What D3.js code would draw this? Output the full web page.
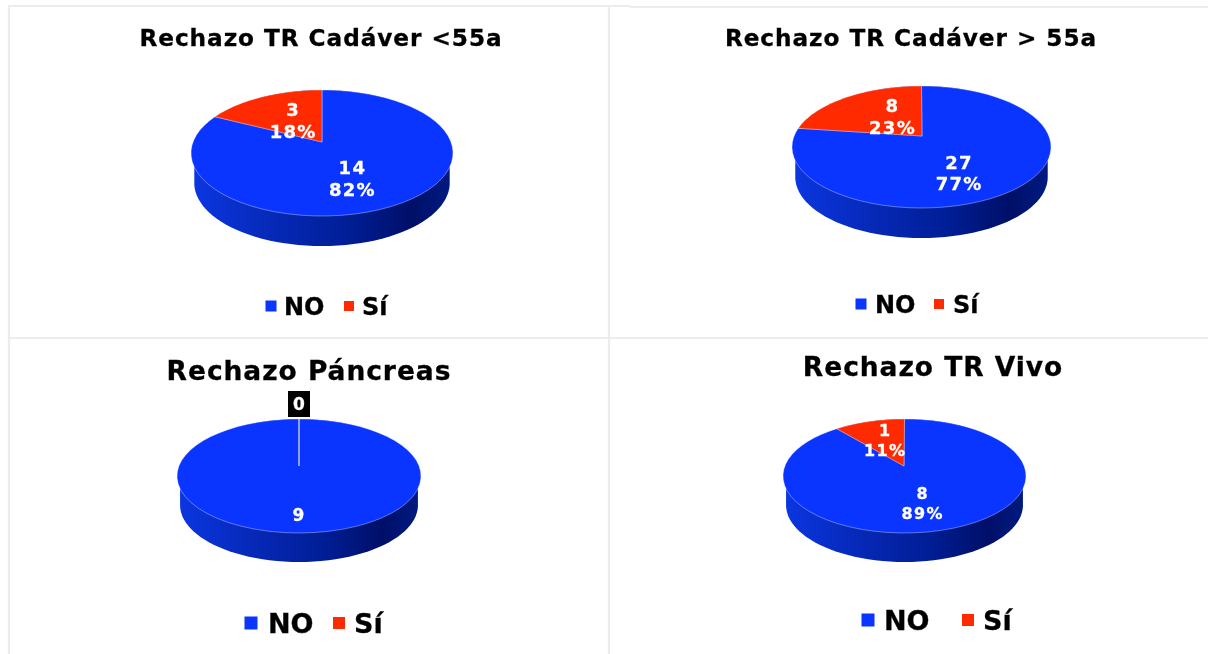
<!DOCTYPE html>
<html>
<head>
<meta charset="utf-8">
<script src="https://cdn.jsdelivr.net/npm/d3@7"></script>
<style>
    html, body { margin: 0; padding: 0; background: #fff; overflow: hidden; }
    svg { display: block; filter: blur(0.55px); font-family: "DejaVu Sans", Verdana, sans-serif; }
</style>
</head>
<body>
<div id="chart"></div>
<script>
const categories = ["NO", "Sí"];
const titles = ["Rechazo TR Cadáver <55a", "Rechazo TR Cadáver > 55a", "Rechazo Páncreas", "Rechazo TR Vivo"];
const noValues = [14, 27, 9, 8];
const siValues = [3, 8, 0, 1];

const
    width = 1208,
    height = 654,
    colors = d3.scaleOrdinal().domain(categories).range(["#0a34ff", "#ff2a00"]),
    svg = d3.select("#chart").append("svg").attr("width", width).attr("height", height);

// where each pie sits in the picture: top/bottom of the face, apex of the slices
const layouts = [
    { left: 191, right: 453, top: 90, bottom: 216, apexX: 322, apexY: 142, depth: 30, labelSize: 18, lineGap: 22, noShift: 13, siShift: [-2, -1],
      titleX: 321, titleY: 46, titleSize: 23.2, legendY: 306, legendSize: 24, boxNo: 11, boxSi: 10, legendX: [271, 284, 349, 362] },
    { left: 792, right: 1051, top: 86, bottom: 208, apexX: 922, apexY: 136, depth: 30, labelSize: 18, lineGap: 21.5, noShift: 17, siShift: [4, -2],
      titleX: 911, titleY: 46, titleSize: 23.2, legendY: 304, legendSize: 24, boxNo: 11, boxSi: 10, legendX: [861, 875, 939, 953] },
    { left: 177, right: 421, top: 419, bottom: 533, apexX: 299, apexY: 466, depth: 29, labelSize: 17, lineGap: 20, noShift: 24, siShift: [0, 0],
      titleX: 309, titleY: 380, titleSize: 26.5, legendY: 623, legendSize: 27, boxNo: 13, boxSi: 12, legendX: [251, 268, 339, 354] },
    { left: 783, right: 1026, top: 419, bottom: 533, apexX: 904, apexY: 466, depth: 29, labelSize: 16, lineGap: 20, noShift: 14, siShift: [-3, -5],
      titleX: 933, titleY: 376, titleSize: 26.5, legendY: 620, legendSize: 27, boxNo: 13, boxSi: 12, legendX: [868, 884, 968, 983] }
];

const pie = d3.pie().sort(null).value(d => d.value);
const line = d3.line().x(d => d[0]).y(d => d[1]);
const pct = d3.format(".0%");

var sideGradient = svg.append("defs").append("linearGradient").attr("id", "side");
[[0, "#0b36e0"], [0.3, "#0629b8"], [0.6, "#001e96"], [0.85, "#000f68"], [1, "#001a80"]].forEach(s => {
    sideGradient.append("stop").attr("offset", s[0]).attr("stop-color", s[1]);
});

createFrame();
titles.forEach((t, i) => createPanel(i));

function createFrame() {
    const frame = svg.append("g").attr("stroke", "#ececec").attr("stroke-width", 2.2);
    frame.append("line").attr("x1", 8).attr("x2", 630).attr("y1", 6).attr("y2", 6);
    frame.append("line").attr("x1", 630).attr("x2", width).attr("y1", 7).attr("y2", 7);
    frame.append("line").attr("x1", 9).attr("x2", 9).attr("y1", 6).attr("y2", height);
    frame.append("line").attr("x1", 609).attr("x2", 609).attr("y1", 6).attr("y2", height);
    frame.append("line").attr("x1", 9).attr("x2", width).attr("y1", 338).attr("y2", 338);
}

// angle on the circle (0 = back of the pie, clockwise) to picture position,
// the face is seen in perspective so the apex is not the middle of the ellipse
function projection(l) {
    const up = l.apexY - l.top,
        down = l.bottom - l.apexY,
        k = (up - down) / (up + down),
        rx = (l.right - l.left) / 2,
        a = rx * Math.sqrt(1 - k * k),
        b = down * (1 + k),
        cx = (l.left + l.right) / 2;
    return (angle, r = 1) => {
        const u = Math.sin(angle) * r,
            v = -Math.cos(angle) * r,
            w = 1 + k * v;
        return [cx + (l.apexX - cx) * (1 - r) + a * u / w, l.apexY + b * v / w];
    };
}

function slicePath(d, project) {
    const steps = d3.range(0, 61).map(n => d.startAngle + (d.endAngle - d.startAngle) * n / 60);
    return line([project(0, 0)].concat(steps.map(s => project(s)))) + "Z";
}

function addText(g, x, y, size, fill, spacing, anchor, value) {
    g.append("text")
        .attr("x", x)
        .attr("y", y)
        .attr("text-anchor", anchor)
        .attr("font-weight", "bold")
        .attr("font-size", size)
        .attr("letter-spacing", spacing)
        .attr("fill", fill)
        .attr("stroke", fill)
        .attr("stroke-width", 0.3)
        .text(value);
}

function createPanel(i) {
    const l = layouts[i],
        project = projection(l),
        values = [noValues[i], siValues[i]],
        total = d3.sum(values),
        arcs = pie(categories.map((c, j) => ({ name: c, value: values[j] }))),
        g = svg.append("g");

    addText(g, l.titleX, l.titleY, l.titleSize, "#000", 0.95, "middle", titles[i]);

    // side of the disc: narrow copy of the rim swept down by the depth
    const rim = d3.range(0, 120).map(n => project(n / 120 * 2 * Math.PI));
    const cx = (l.left + l.right) / 2;
    const narrow = rim.map(p => [cx + (p[0] - cx) * 0.975, p[1]]);
    const hull = d3.polygonHull(narrow.concat(narrow.map(p => [p[0], p[1] + l.depth])));
    g.append("path")
        .attr("d", line(hull) + "Z")
        .attr("fill", "url(#side)");

    g.selectAll(".slice")
        .data(arcs)
        .enter().append("path")
        .attr("class", "slice")
        .attr("d", d => slicePath(d, project))
        .attr("fill", d => colors(d.data.name))
        .attr("stroke", "#fff")
        .attr("stroke-opacity", 0.45)
        .attr("stroke-width", 0.8)
        .attr("stroke-linejoin", "round");

    arcs.forEach(d => {
        const mid = (d.startAngle + d.endAngle) / 2;
        if (d.data.value === 0) {
            const p = project(d.startAngle);
            g.append("rect")
                .attr("x", p[0] - 11)
                .attr("y", p[1] - 28)
                .attr("width", 22)
                .attr("height", 26)
                .attr("fill", "#000");
            addText(g, p[0], p[1] - 9, 17, "#fff", 0, "middle", d.data.value);
            return;
        }
        const p = project(mid, 0.42),
            isNo = d.data.name === "NO",
            x = p[0] + (isNo ? 0 : l.siShift[0]),
            y = p[1] + (isNo ? l.noShift : l.siShift[1]),
            both = values.every(v => v > 0),
            rows = both ? [d.data.value, pct(d.data.value / total)] : [d.data.value];
        rows.forEach((row, n) => {
            const rowY = y + (n - (rows.length - 1) / 2) * l.lineGap + l.labelSize * 0.36;
            addText(g, x, rowY, l.labelSize, "#fff", 1.3, "middle", row);
        });
    });

    createLegend(g, l);
}

function createLegend(g, l) {
    categories.forEach((c, j) => {
        const size = j === 0 ? l.boxNo : l.boxSi;
        g.append("rect")
            .attr("x", l.legendX[j * 2] - size / 2)
            .attr("y", l.legendY - size / 2)
            .attr("width", size)
            .attr("height", size)
            .attr("fill", colors(c));
        addText(g, l.legendX[j * 2 + 1], l.legendY + l.legendSize * 0.42 - 1, l.legendSize, "#000", 0, "start", c);
    });
}
</script>
</body>
</html>
